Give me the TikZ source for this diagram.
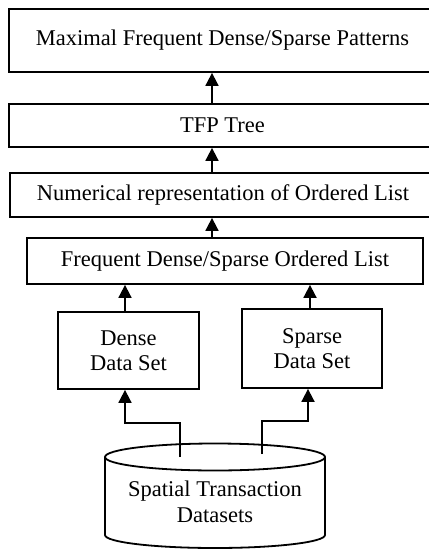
\documentclass[tikz,border=0pt]{standalone}
\usepackage{fontspec}
\setmainfont{Liberation Serif}
\usetikzlibrary{arrows.meta}
\tikzset{
  box/.style={draw, line width=1.8pt, inner sep=0pt, align=center,
    font=\fontsize{22.5}{24.5}\selectfont},
  arr/.style={line width=1.8pt, -{Triangle[width=13pt,length=13pt]}},
  link/.style={line width=1.8pt},
}
\begin{document}
\begin{tikzpicture}[x=1pt,y=1pt]
\useasboundingbox (0,0) rectangle (428,-551);

% processing stages, top to bottom
\node[box, minimum width=427, minimum height=63] (top) at (222.5,-40.5)
  {Maximal Frequent Dense/Sparse Patterns};
\node[box, minimum width=427, minimum height=43] (tfp) at (222.5,-125.5)
  {TFP Tree};
\node[box, minimum width=426, minimum height=44] (num) at (223,-195)
  {Numerical representation of Ordered List};
\node[box, minimum width=396, minimum height=46] (freq) at (225,-261)
  {Frequent Dense/Sparse Ordered List};
\node[box, minimum width=141, minimum height=77] (dense) at (128.5,-350.5)
  {Dense\\Data Set};
\node[box, minimum width=140, minimum height=79] (sparse) at (312,-348.5)
  {Sparse\\Data Set};

% database cylinder
\draw[link] (215,-457) ellipse [x radius=110, y radius=13.5];
\draw[link] (105,-457) -- (105,-535)
  arc[start angle=180, end angle=360, x radius=110, y radius=13]
  -- (325,-457);
\node[align=center, font=\fontsize{22.5}{26}\selectfont] (db) at (215,-502)
  {Spatial Transaction\\Datasets};

% connectors
\coordinate (ax) at (212,0);
\draw[arr] (ax |- tfp.north) -- (ax |- top.south);
\draw[arr] (ax |- num.north) -- (ax |- tfp.south);
\draw[arr] (ax |- freq.north) -- (ax |- num.south);
\draw[arr] ([xshift=-3.5pt]dense.north) -- ([xshift=-3.5pt]dense.north |- freq.south);
\draw[arr] ([xshift=-2pt]sparse.north) -- ([xshift=-2pt]sparse.north |- freq.south);

\coordinate (dl) at (180,-457);
\coordinate (dr) at (262,-454);
\draw[arr] (dl) -- (180,-423) -- ([xshift=-3.5pt]dense.south |- 0,-423)
  -- ([xshift=-3.5pt]dense.south);
\draw[arr] (dr) -- (262,-421) -- ([xshift=-4pt]sparse.south |- 0,-421)
  -- ([xshift=-4pt]sparse.south);
\end{tikzpicture}
\end{document}
